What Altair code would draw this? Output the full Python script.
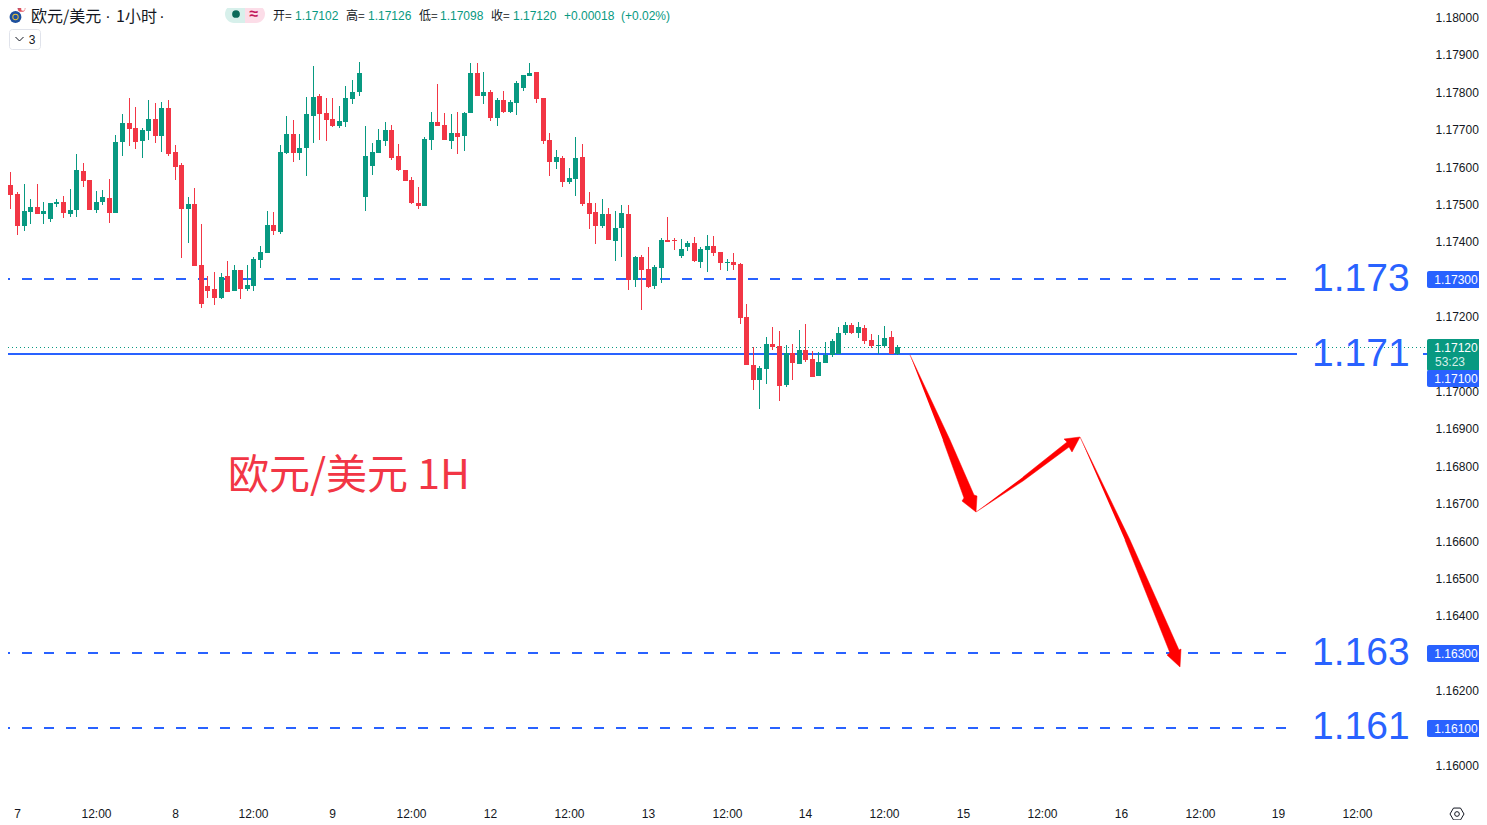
import altair as alt
import pandas as pd

# hourly candles, prices in 1e-5 units
opens = [117513, 117553, 117529, 117444, 117481, 117494, 117476, 117462, 117502, 117508, 117476, 117486,
         117591, 117567, 117486, 117508, 117518, 117478, 117668, 117719, 117706, 117671, 117697, 117730,
         117684, 117759, 117641, 117607, 117489, 117502, 117339, 117283, 117275, 117251, 117310, 117270,
         117326, 117275, 117283, 117353, 117371, 117446, 117428, 117639, 117689, 117639, 117652, 117738,
         117791, 117746, 117730, 117711, 117722, 117783, 117802, 117521, 117604, 117639, 117671, 117700,
         117631, 117593, 117567, 117505, 117497, 117673, 117722, 117714, 117671, 117692, 117684, 117746,
         117853, 117791, 117802, 117732, 117780, 117748, 117772, 117812, 117845, 117855, 117786, 117673,
         117615, 117625, 117561, 117569, 117628, 117505, 117481, 117444, 117476, 117403, 117438, 117476,
         117299, 117361, 117329, 117283, 117331, 117406, 117406, 117363, 117387, 117398, 117347, 117379,
         117390, 117374, 117345, 117347, 117342, 117200, 117072, 117032, 117061, 117128, 117123, 117018,
         117104, 117075, 117112, 117088, 117043, 117077, 117099, 117101, 117157, 117179, 117157, 117171,
         117139, 117124, 117123, 117147, 117102]
highs = [117631, 117588, 117534, 117556, 117516, 117556, 117508, 117505, 117516, 117524, 117542, 117636,
         117612, 117567, 117537, 117540, 117569, 117687, 117743, 117786, 117762, 117706, 117780, 117772,
         117775, 117780, 117660, 117612, 117521, 117545, 117449, 117310, 117321, 117318, 117350, 117339,
         117326, 117339, 117361, 117390, 117484, 117481, 117660, 117738, 117727, 117689, 117788, 117871,
         117796, 117786, 117786, 117764, 117818, 117834, 117882, 117711, 117665, 117703, 117722, 117714,
         117663, 117593, 117575, 117548, 117681, 117748, 117823, 117746, 117743, 117748, 117748, 117879,
         117879, 117855, 117807, 117786, 117804, 117780, 117831, 117847, 117879, 117855, 117786, 117692,
         117647, 117631, 117599, 117681, 117663, 117534, 117505, 117516, 117492, 117484, 117500, 117500,
         117363, 117366, 117387, 117339, 117411, 117468, 117411, 117409, 117403, 117414, 117387, 117419,
         117417, 117374, 117355, 117371, 117345, 117235, 117120, 117069, 117147, 117174, 117163, 117125,
         117128, 117166, 117182, 117109, 117107, 117133, 117141, 117174, 117187, 117184, 117187, 117179,
         117155, 117152, 117176, 117163, 117126]
lows = [117452, 117489, 117419, 117430, 117449, 117476, 117449, 117454, 117494, 117465, 117468, 117468,
        117548, 117486, 117478, 117500, 117452, 117478, 117631, 117657, 117649, 117625, 117673, 117665,
        117641, 117631, 117567, 117358, 117398, 117337, 117224, 117251, 117232, 117248, 117267, 117270,
        117248, 117270, 117270, 117331, 117371, 117419, 117422, 117636, 117615, 117620, 117577, 117665,
        117673, 117671, 117708, 117706, 117708, 117770, 117791, 117484, 117580, 117639, 117657, 117620,
        117591, 117564, 117502, 117489, 117497, 117647, 117711, 117673, 117649, 117636, 117644, 117746,
        117791, 117770, 117724, 117711, 117746, 117746, 117740, 117804, 117845, 117772, 117663, 117577,
        117596, 117548, 117556, 117524, 117497, 117436, 117395, 117438, 117406, 117350, 117361, 117272,
        117280, 117219, 117278, 117275, 117291, 117401, 117379, 117358, 117377, 117347, 117331, 117321,
        117363, 117326, 117323, 117326, 117182, 117072, 117005, 116954, 117021, 117112, 116976, 117013,
        117032, 117075, 117080, 117040, 117043, 117077, 117093, 117101, 117152, 117155, 117144, 117128,
        117117, 117101, 117117, 117101, 117098]
closes = [117553, 117526, 117444, 117484, 117494, 117476, 117484, 117505, 117508, 117478, 117486, 117593,
          117564, 117486, 117508, 117521, 117478, 117668, 117719, 117703, 117668, 117700, 117730, 117684,
          117759, 117636, 117601, 117489, 117502, 117337, 117235, 117270, 117251, 117307, 117267, 117326,
          117275, 117286, 117355, 117374, 117446, 117430, 117641, 117689, 117639, 117652, 117743, 117788,
          117743, 117727, 117711, 117724, 117786, 117802, 117853, 117631, 117641, 117673, 117700, 117625,
          117593, 117564, 117505, 117497, 117676, 117722, 117711, 117673, 117692, 117681, 117746, 117853,
          117791, 117802, 117732, 117780, 117748, 117775, 117826, 117847, 117853, 117783, 117671, 117615,
          117628, 117561, 117572, 117625, 117502, 117476, 117444, 117476, 117406, 117438, 117478, 117299,
          117361, 117326, 117280, 117334, 117406, 117401, 117404, 117382, 117398, 117350, 117382, 117390,
          117371, 117345, 117347, 117339, 117198, 117072, 117032, 117064, 117128, 117120, 117016, 117104,
          117077, 117112, 117085, 117040, 117080, 117099, 117136, 117157, 117179, 117157, 117174, 117136,
          117123, 117125, 117144, 117101, 117120]

# time axis: one label every 12 candles starting at candle 2
time_labels = ["7", "12:00", "8", "12:00", "9", "12:00", "12", "12:00", "13", "12:00",
               "14", "12:00", "15", "12:00", "16", "12:00", "19", "12:00"]
price_ticks = [1.160, 1.161, 1.162, 1.163, 1.164, 1.165, 1.166, 1.167, 1.168, 1.169, 1.170,
               1.171, 1.172, 1.173, 1.174, 1.175, 1.176, 1.177, 1.178, 1.179, 1.180]
dashed_levels = [1.173, 1.163, 1.161]
solid_level = 1.171
last_price = 1.1712

# the three hand drawn arrows, outline points as (candle index, 1e-5 price)
arrow_a_x = [137.9, 144.05, 147.7, 148.1, 147.9, 145.9, 146.2, 142.9]
arrow_a_p = [117099, 116872, 116725, 116723, 116678, 116708, 116717, 116872]
arrow_b_x = [147.9, 155.1, 162.2, 162.6, 163.8, 161.3, 161.8, 155.1]
arrow_b_p = [116678, 116761, 116852, 116840, 116881, 116875, 116865, 116772]
arrow_c_x = [163.8, 171.4, 178.8, 179.25, 179.05, 177.1, 177.5, 170.6]
arrow_c_p = [116881, 116604, 116310, 116312, 116266, 116296, 116303, 116604]

RED = "#f23645"
GREEN = "#089981"
BLUE = "#2962ff"
INK = "#131722"
LATIN = "Liberation Sans"
CJK = "Noto Sans CJK SC"

# padding=0: bars on a continuous x would otherwise widen the scale
x_scale = alt.Scale(domain=[0.639, 216.62], round=True, padding=0)
y_scale = alt.Scale(domain=[1.159225, 1.180267], round=True, padding=0)

candles = pd.DataFrame({"i": range(len(opens)), "o": opens, "h": highs, "l": lows, "c": closes})
for col in "ohlc":
    candles[col] = candles[col] / 1e5
candles["color"] = [GREEN if c >= o else RED for o, c in zip(opens, closes)]

one = pd.DataFrame({"v": [0]})


def X(field):
    return alt.X(field, type="quantitative", scale=x_scale, title=None, axis=None)


def Y(field):
    return alt.Y(field, type="quantitative", scale=y_scale, title=None, axis=None)


def label(text, x, y, size=12, color=INK, font=LATIN, align="left", weight="normal"):
    # x, y are page pixels, the chart starts 8px in
    return alt.Chart(one).mark_text(
        text=text, align=align, baseline="middle", fontSize=size, color=color, font=font, fontWeight=weight
    ).encode(x=alt.value(x - 8), y=alt.value(y - 8))


def box(x0, x1, y0, y1, **style):
    return alt.Chart(one).mark_rect(**style).encode(
        x=alt.value(x0 - 8), x2=alt.value(x1 - 8), y=alt.value(y0 - 8), y2=alt.value(y1 - 8)
    )


def dot(x, y, size, color, **style):
    return alt.Chart(one).mark_point(filled=True, size=size, color=color, opacity=1, **style).encode(
        x=alt.value(x - 8), y=alt.value(y - 8)
    )


def glyph(shape, x, y, size):
    return alt.Chart(one).mark_point(shape=shape, size=size, color=INK, strokeWidth=1, opacity=1).encode(
        x=alt.value(x - 8), y=alt.value(y - 8)
    )


def arrow(xs, ps):
    df = pd.DataFrame({"x": xs, "p": [p / 1e5 for p in ps], "n": range(len(xs))})
    return alt.Chart(df).mark_line(fill="#ff0000", stroke="#ff0000", strokeWidth=0.5).encode(
        x=X("x"), y=Y("p"), order="n:Q"
    )


def level(price, dash=None):
    style = {"strokeDash": dash} if dash else {}
    return alt.Chart(pd.DataFrame({"p": [price]})).mark_rule(
        color=BLUE, strokeWidth=2, yOffset=-1, **style
    ).encode(
        y=Y("p"),
        x=alt.value(-8),
        x2=alt.value(1290 - 8 if dash else 1297 - 8),
    )


axes = alt.Chart(pd.DataFrame({"i": [0.639], "p": [1.17]})).mark_point(opacity=0).encode(
    x=alt.X(
        "i:Q",
        scale=x_scale,
        title=None,
        axis=alt.Axis(
            values=[2 + 12 * n for n in range(len(time_labels))],
            labelExpr="%s[(datum.value - 2) / 12]" % str(time_labels),
            domain=False,
            ticks=False,
            grid=False,
            labelPadding=13,
            labelFont=LATIN,
            labelFontSize=12,
            labelColor=INK,
            labelOverlap=False,
        ),
    ),
    y=alt.Y(
        "p:Q",
        scale=y_scale,
        title=None,
        axis=alt.Axis(
            orient="right",
            values=price_ticks,
            format=".5f",
            domain=False,
            ticks=False,
            grid=False,
            labelPadding=8,
            labelOffset=-1,
            labelFont=LATIN,
            labelFontSize=12,
            labelColor=INK,
            labelOverlap=False,
        ),
    ),
)

dotted = alt.Chart(pd.DataFrame({"p": [last_price]})).mark_rule(
    color=GREEN, strokeWidth=1, strokeDash=[1, 3], yOffset=0.5
).encode(y=Y("p"), x=alt.value(-8), x2=alt.value(1427 - 8))

wicks = alt.Chart(candles).mark_rule(strokeWidth=1, xOffset=0.5).encode(
    x=X("i"), y=Y("h"), y2="l:Q", color=alt.Color("color:N", scale=None)
)
bodies = alt.Chart(candles).mark_bar(size=5, xOffset=0.5).encode(
    x=X("i"), y=Y("o"), y2="c:Q", color=alt.Color("color:N", scale=None)
)

layers = [axes, dotted]
layers += [level(p, [10, 12]) for p in dashed_levels]
layers += [level(solid_level)]
layers += [wicks, bodies]
layers += [arrow(arrow_a_x, arrow_a_p), arrow(arrow_b_x, arrow_b_p), arrow(arrow_c_x, arrow_c_p)]

# big level captions and the pair caption
for text, y in [("1.173", 279), ("1.171", 354), ("1.163", 653), ("1.161", 727)]:
    layers.append(label(text, 1312, y, size=39, color=BLUE))
layers.append(label("欧元/美元 1H", 228, 477, size=41, color=RED, font=CJK))

# price tags on the scale
layers.append(box(1423, 1427, 353, 355, color=BLUE))
for text, y in [("1.17300", 279.5), ("1.16300", 653.5), ("1.16100", 728.5)]:
    layers.append(box(1427, 1483, y - 8.5, y + 8.5, color=BLUE, cornerRadius=2))
    layers.append(label(text, 1456, y, color="#ffffff", align="center"))
layers.append(box(1427, 1483, 339, 371, color=GREEN, cornerRadius=2))
layers.append(label("1.17120", 1456, 348, color="#ffffff", align="center"))
layers.append(label("53:23", 1435, 362, color="#d5efe9", align="left"))
layers.append(box(1427, 1483, 370, 387, color=BLUE, cornerRadius=2))
layers.append(label("1.17100", 1456, 378.5, color="#ffffff", align="center"))

# header
layers.append(dot(15.5, 17, 140, "#1d4f9e"))
layers.append(dot(15.5, 17, 40, "#e8c33a"))
layers.append(dot(15.5, 17, 20, "#1d4f9e"))
layers.append(dot(21.5, 8, 60, "#e0515c"))
layers.append(dot(23, 9, 14, "#ffffff"))
layers.append(dot(18.5, 6.5, 14, "#3c5aa6"))
layers.append(label("欧元/美元", 31, 17, size=16, font=CJK))
layers.append(label("·", 108, 17, size=16, font=LATIN, align="center"))
layers.append(label("1小时", 116, 17, size=16, font=CJK))
layers.append(label("·", 162, 17, size=16, font=LATIN, align="center"))
layers.append(box(225, 245.5, 5, 23, color="#d7f0eb", cornerRadiusTopLeft=9, cornerRadiusBottomLeft=9))
layers.append(box(245, 265, 5, 23, color="#fcdde8", cornerRadiusTopRight=9, cornerRadiusBottomRight=9))
layers.append(dot(236, 14, 60, "#0b6b5a"))
layers.append(label("≈", 254, 14, size=16, color="#c2185b", align="center", weight="bold"))

for text, x, color, font in [
    ("开=", 273, INK, CJK),
    ("1.17102", 295, GREEN, LATIN),
    ("高=", 346, INK, CJK),
    ("1.17126", 368, GREEN, LATIN),
    ("低=", 419, INK, CJK),
    ("1.17098", 440, GREEN, LATIN),
    ("收=", 491, INK, CJK),
    ("1.17120", 513, GREEN, LATIN),
    ("+0.00018", 564, GREEN, LATIN),
    ("(+0.02%)", 621, GREEN, LATIN),
]:
    layers.append(label(text, x, 16, color=color, font=font))

layers.append(box(9.5, 40.5, 29.5, 49.5, fill="#ffffff", stroke="#e0e3eb", strokeWidth=1, cornerRadius=3))
layers.append(glyph("M-1,-0.5L0,0.5L1,-0.5", 19.5, 39, 64))
layers.append(label("3", 32, 40, size=12, align="center"))

# settings glyph bottom right
layers.append(glyph("M-1,0L-0.5,-0.85L0.5,-0.85L1,0L0.5,0.85L-0.5,0.85Z", 1457, 814, 196))
layers.append(glyph("circle", 1457, 814, 22))

chart = alt.layer(*layers).resolve_scale(color="independent").resolve_axis(
    x="independent", y="independent"
).properties(
    width=1419,
    height=787,
    autosize=alt.AutoSizeParams(type="none"),
    padding={"left": 0, "top": 0, "right": 52, "bottom": 25},
    background="#ffffff",
).configure_view(stroke=None)

chart.save("out.html", embed_options={"renderer": "svg", "actions": False})
